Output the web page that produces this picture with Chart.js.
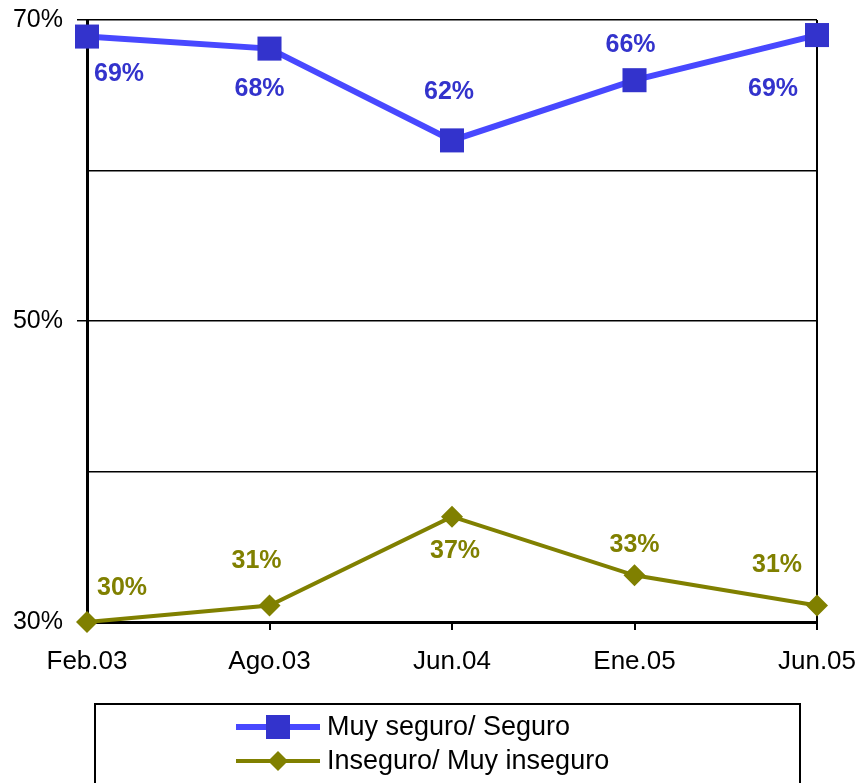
<!DOCTYPE html>
<html>
<head>
<meta charset="utf-8">
<script src="https://cdn.jsdelivr.net/npm/chart.js@4"></script>
<style>
  body { margin: 0; background: #fff; }
  canvas { display: block; }
</style>
</head>
<body>
<canvas id="chart1" width="857" height="783"></canvas>
<script>
// values
var periods = ['Feb.03', 'Ago.03', 'Jun.04', 'Ene.05', 'Jun.05'];
var seguro = [68.9, 68.1, 62.0, 66.0, 69.0];
var inseguro = [30.0, 31.1, 37.0, 33.1, 31.1];
var yLabeled = [30, 50, 70];

var FONT = "'Liberation Sans', Arial, sans-serif";

// where each value label sits relative to its point
var labelOffsets = [
    [[32, 38], [-10, 41], [-3, -48], [-4, -35], [-44, 54]],
    [[35, -34], [-13, -44], [3, 34], [0, -30], [-40, -40]]
];

var valueLabels = {
    id: 'valueLabels',
    afterDatasetsDraw: function (chart) {
        var ctx = chart.ctx;
        ctx.save();
        ctx.font = 'bold 25px ' + FONT;
        ctx.textAlign = 'center';
        ctx.textBaseline = 'middle';
        chart.data.datasets.forEach(function (ds, di) {
            ctx.fillStyle = ds.labelColor;
            chart.getDatasetMeta(di).data.forEach(function (pt, i) {
                var off = labelOffsets[di][i];
                ctx.fillText(Math.round(ds.data[i]) + '%', pt.x + off[0], pt.y + off[1]);
            });
        });
        ctx.restore();
    }
};

var frame = {
    id: 'frame',
    beforeDatasetsDraw: function (chart) {
        var ctx = chart.ctx, a = chart.chartArea;
        ctx.save();
        ctx.strokeStyle = '#000';
        ctx.lineWidth = 2;
        ctx.beginPath();
        ctx.moveTo(a.right, a.top);
        ctx.lineTo(a.right, a.bottom);
        ctx.stroke();
        ctx.restore();
    },
    afterDraw: function (chart) {
        var ctx = chart.ctx;
        ctx.save();
        // legend box
        ctx.strokeStyle = '#000';
        ctx.lineWidth = 2;
        ctx.strokeRect(95, 704, 705, 100);
        ctx.font = '27px ' + FONT;
        ctx.textAlign = 'left';
        ctx.textBaseline = 'middle';
        chart.data.datasets.forEach(function (ds, di) {
            var y = 727 + di * 34;
            ctx.strokeStyle = ds.borderColor;
            ctx.lineWidth = ds.borderWidth;
            ctx.beginPath();
            ctx.moveTo(236, y);
            ctx.lineTo(320, y);
            ctx.stroke();
            ctx.fillStyle = ds.pointBackgroundColor;
            ctx.beginPath();
            if (ds.pointStyle === 'rect') {
                ctx.rect(266, y - 12, 24, 24);
            } else {
                ctx.moveTo(278 - 10, y);
                ctx.lineTo(278, y - 10);
                ctx.lineTo(278 + 10, y);
                ctx.lineTo(278, y + 10);
                ctx.closePath();
            }
            ctx.fill();
            ctx.fillStyle = '#000';
            ctx.fillText(ds.label, 327, y + 1);
        });
        ctx.restore();
    }
};

var ctx = document.getElementById('chart1').getContext('2d');
var chart1 = new Chart(ctx, {
    type: 'line',
    data: {
        labels: periods,
        datasets: [{
            label: 'Muy seguro/ Seguro',
            data: seguro,
            borderColor: '#4848FF',
            borderWidth: 6,
            pointStyle: 'rect',
            pointRadius: 17,
            pointBackgroundColor: '#3333CC',
            pointBorderColor: '#3333CC',
            pointBorderWidth: 0,
            labelColor: '#3333CC',
            clip: false
        }, {
            label: 'Inseguro/ Muy inseguro',
            data: inseguro,
            borderColor: '#808000',
            borderWidth: 4,
            pointStyle: 'rectRot',
            pointRadius: 11,
            pointBackgroundColor: '#808000',
            pointBorderColor: '#808000',
            pointBorderWidth: 0,
            labelColor: '#808000',
            clip: false
        }]
    },
    options: {
        responsive: false,
        animation: false,
        devicePixelRatio: 1,
        layout: { padding: { top: 20, right: 40, bottom: 0, left: 0 } },
        plugins: { legend: { display: false }, tooltip: { enabled: false } },
        scales: {
            x: {
                offset: false,
                afterFit: function (s) { s.height = 161; s.paddingLeft = 0; s.paddingRight = 0; },
                grid: { drawOnChartArea: false, color: '#000', lineWidth: 2, tickLength: 8 },
                border: { color: '#000', width: 3 },
                ticks: { color: '#000', font: { family: FONT, size: 26 }, padding: 16, maxRotation: 0 }
            },
            y: {
                min: 30,
                max: 70,
                afterFit: function (s) { s.width = 87; s.paddingTop = 0; s.paddingBottom = 0; },
                grid: {
                    color: '#000',
                    lineWidth: 1.5,
                    tickLength: 10,
                    tickColor: function (c) {
                        return yLabeled.indexOf(c.tick.value) >= 0 ? '#000' : 'rgba(0,0,0,0)';
                    }
                },
                border: { color: '#000', width: 3 },
                ticks: {
                    stepSize: 10,
                    color: '#000',
                    padding: 14,
                    font: { family: FONT, size: 25 },
                    callback: function (v) { return yLabeled.indexOf(v) >= 0 ? v + '%' : ''; }
                }
            }
        }
    },
    plugins: [valueLabels, frame]
});
</script>
</body>
</html>
